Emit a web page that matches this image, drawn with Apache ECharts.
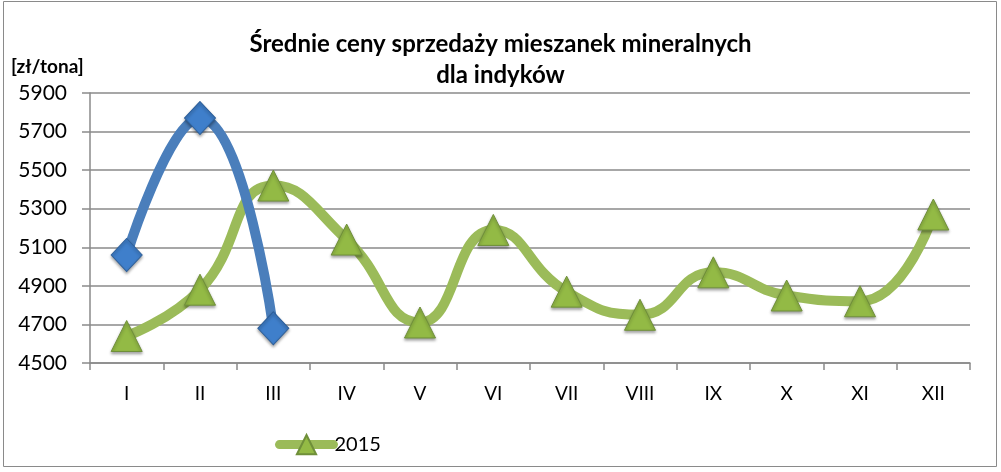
<!DOCTYPE html>
<html><head><meta charset="utf-8">
<script src="https://cdn.jsdelivr.net/npm/echarts@6/dist/echarts.min.js"></script>
<style>html,body{margin:0;padding:0;background:#fff}#c{width:1001px;height:472px}</style>
</head><body><div id="c"></div>
<script>
const categories = ['I','II','III','IV','V','VI','VII','VIII','IX','X','XI','XII'];
const values2015 = [4640, 4880, 5420, 5140, 4710, 5190, 4870, 4750, 4970, 4850, 4820, 5270];
const values2016 = [5060, 5770, 4680];
const yTicks = [4500, 4700, 4900, 5100, 5300, 5500, 5700, 5900];
const FONT = 'Lato, "Liberation Sans", sans-serif';

const chart = echarts.init(document.getElementById('c'));
chart.setOption({
  animation: false,
  backgroundColor: '#fff',
  textStyle: { fontFamily: FONT },
  graphic: [
    { type: 'rect', shape: { x: 3.5, y: 1.5, width: 993, height: 465 }, style: { fill: 'none', stroke: '#8a8a8a', lineWidth: 1 } }
  ],
  title: {
    text: 'Średnie ceny sprzedaży mieszanek mineralnych\ndla indyków',
    left: 'center', top: 24,
    textStyle: { fontFamily: FONT, fontSize: 24, fontWeight: 'bold', color: '#000', lineHeight: 31 }
  },
  legend: {
    data: [{ name: '2015', lineStyle: { width: 9, cap: 'round' } }],
    left: 270, top: 429,
    itemWidth: 54, itemHeight: 24, itemGap: 4,
    textStyle: { fontFamily: FONT, fontSize: 20, color: '#000', padding: [0, 0, 0, -4] }
  },
  grid: { left: 90, right: 31, top: 93, bottom: 109 },
  xAxis: {
    type: 'category', data: categories, boundaryGap: true,
    axisLine: { lineStyle: { color: '#8a8a8a', width: 1.5 } },
    axisTick: { show: true, length: 7, lineStyle: { color: '#8a8a8a', width: 1.5 } },
    axisLabel: { fontFamily: FONT, fontSize: 19, color: '#000', margin: 21 }
  },
  yAxis: {
    type: 'value', min: 4500, max: 5900, interval: 200,
    name: '[zł/tona]', nameLocation: 'end', nameGap: 17,
    nameTextStyle: { fontFamily: FONT, fontSize: 19, fontWeight: 'bold', color: '#000', align: 'left', padding: [0, 0, 0, -79] },
    axisLine: { show: true, lineStyle: { color: '#8a8a8a', width: 1.5 } },
    axisTick: { show: true, length: 8, lineStyle: { color: '#8a8a8a', width: 1.5 } },
    axisLabel: { fontFamily: FONT, fontSize: 21, color: '#000', margin: 23,
      formatter: v => yTicks.includes(v) ? String(v) : '' },
    splitLine: { lineStyle: { color: '#8a8a8a', width: 1.5 } }
  },
  series: [
    {
      name: '2015', type: 'line', data: values2015, smooth: 0.5,
      lineStyle: { color: '#9BBB59', width: 10 },
      itemStyle: { color: '#93BA45', borderColor: '#6f8f3a', borderWidth: 1, shadowColor: 'rgba(0,0,0,0.35)', shadowBlur: 3, shadowOffsetY: 2 },
      symbol: 'triangle', symbolSize: [31, 31], z: 2
    },
    {
      name: '2016', type: 'line', data: values2016, smooth: 0.5,
      lineStyle: { color: '#4A7EBB', width: 10 },
      itemStyle: { color: '#3F7FCB', borderColor: '#2d5f9a', borderWidth: 1, shadowColor: 'rgba(0,0,0,0.35)', shadowBlur: 3, shadowOffsetY: 2 },
      symbol: 'diamond', symbolSize: [31, 33], z: 3
    }
  ]
});
</script></body></html>
